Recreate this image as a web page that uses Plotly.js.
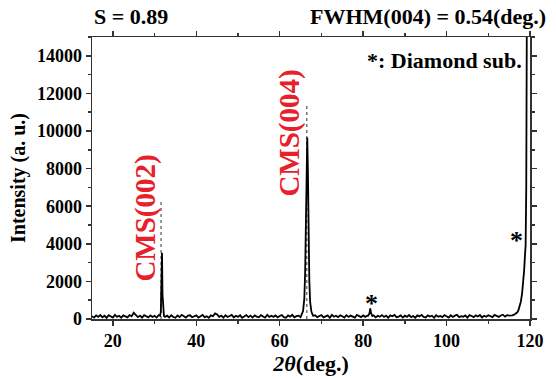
<!DOCTYPE html>
<html>
<head>
<meta charset="utf-8">
<script src="https://cdn.plot.ly/plotly-3.0.1.min.js"></script>
<style>
html,body{margin:0;padding:0;background:#fff;}
#chart{width:556px;height:379px;}
#chart svg text, #chart svg tspan { font-family: 'Liberation Serif', 'Times New Roman', serif !important; }
</style>
</head>
<body>
<div id="chart"></div>
<script>
// Baseline scan: 2theta grid start/step, intensities
var scanStart = 15.0;
var scanStep = 0.5;
var baseIntensity = [
 150,70,190,110,210,90,170,60,200,120,
 80,220,115,170,70,195,130,90,210,150,
 330,190,100,180,70,200,120,85,190,110,
 170,75,210,140,180,110,175,80,200,105,
 65,190,100,220,125,75,180,200,95,150,
 190,70,160,215,100,140,65,195,150,300,
 240,110,175,70,200,105,160,220,85,170,
 115,195,65,150,210,100,180,75,190,130,
 90,205,140,70,215,110,175,115,195,85,
 160,210,100,65,190,125,220,90,150,180,
 105,200,170,140,190,120,70,195,100,170,
 210,85,150,190,65,220,120,175,100,195,
 145,75,205,110,180,130,70,215,160,100,
 190,115,175,210,140,195,85,170,120,205,
 110,180,65,195,145,215,95,130,190,75,
 175,115,210,100,160,70,195,140,220,110,
 85,190,130,175,65,205,120,165,100,210,
 150,75,195,110,180,220,95,150,120,190,
 70,205,160,100,190,130,210,85,175,120,
 200,145,100,215,170,110,190,230,130,205,
 180
];

// Peak segments (2theta, intensity)
var cms002X = [31.3, 31.5, 31.65, 31.78, 31.9, 32.05, 32.25];
var cms002Y = [170, 380, 1400, 3520, 1300, 320, 160];
var cms004X = [65.2, 65.6, 65.9, 66.1, 66.3, 66.45, 66.6, 66.75, 66.9, 67.1, 67.3, 67.6, 68.0];
var cms004Y = [190, 420, 1100, 2500, 5400, 8400, 9650, 8000, 4500, 2000, 900, 380, 170];
var dia81X = [81.2, 81.5, 81.7, 81.9, 82.2];
var dia81Y = [170, 290, 560, 310, 160];
var dia119X = [115.3, 115.7, 116.1, 116.5, 116.9, 117.2, 117.5, 117.8, 118.1, 118.4, 118.6, 118.8, 118.95, 119.1, 119.25];
var dia119Y = [170, 190, 215, 260, 340, 450, 640, 920, 1350, 1950, 2600, 3400, 3900, 7000, 16500];

// Reference (dotted) lines for CMS positions
var refX = [31.55, 66.5];
var refTop = [6220, 11330];

// Labels
var cmsLabels = ["CMS(002)", "CMS(004)"];
var cmsLabelX = [27.6, 62.4];
var cmsLabelY = [5370, 9900];
var starX = [82.1, 116.7];
var starY = [800, 4200];

var segs = [[cms002X, cms002Y], [cms004X, cms004Y], [dia81X, dia81Y], [dia119X, dia119Y]];
var pts = [];
for (var i = 0; i < baseIntensity.length; i++) {
  var xv = scanStart + i * scanStep;
  var inside = false;
  segs.forEach(function (s) { if (xv >= s[0][0] && xv <= s[0][s[0].length - 1]) inside = true; });
  if (!inside) pts.push([xv, baseIntensity[i]]);
}
segs.forEach(function (s) { for (var j = 0; j < s[0].length; j++) pts.push([s[0][j], s[1][j]]); });
pts.sort(function (a, b) { return a[0] - b[0]; });

var traces = [];
refX.forEach(function (rx, k) {
  traces.push({x: [rx, rx], y: [0, refTop[k]], mode: 'lines', line: {color: '#333', width: 1, dash: 'dot'}, hoverinfo: 'skip', showlegend: false});
});
traces.push({
  x: pts.map(function (p) { return p[0]; }),
  y: pts.map(function (p) { return p[1]; }),
  mode: 'lines', line: {color: '#000', width: 1.8}, showlegend: false
});

var FONT_FAMILY = 'Liberation Serif';
function fnt(sz, col) { return {family: FONT_FAMILY, size: sz, color: col || '#000', weight: 'bold'}; }
var ann = [
  {text: 'S = 0.89', xref: 'paper', yref: 'paper', x: 0, y: 1.074, xanchor: 'left', yanchor: 'middle', showarrow: false, font: fnt(22)},
  {text: 'FWHM(004) = 0.54(deg.)', xref: 'paper', yref: 'paper', x: 1.041, y: 1.074, xanchor: 'right', yanchor: 'middle', showarrow: false, font: fnt(22)},
  {text: '*: Diamond sub.', xref: 'paper', yref: 'paper', x: 0.986, y: 0.918, xanchor: 'right', yanchor: 'middle', showarrow: false, font: fnt(22)}
];
cmsLabels.forEach(function (t, k) {
  ann.push({text: t, x: cmsLabelX[k], y: cmsLabelY[k], textangle: -90, showarrow: false, xanchor: 'center', yanchor: 'middle', font: fnt(29, '#e8202a')});
});
starX.forEach(function (sx, k) {
  ann.push({text: '*', x: sx, y: starY[k], showarrow: false, xanchor: 'center', yanchor: 'middle', font: fnt(26)});
});

var layout = {
  width: 556, height: 379,
  margin: {l: 92, r: 26, t: 37, b: 60},
  paper_bgcolor: '#fff', plot_bgcolor: '#fff',
  font: {family: FONT_FAMILY},
  showlegend: false,
  xaxis: {
    range: [15, 120], tick0: 20, dtick: 20, ticks: 'outside', ticklen: 5, tickwidth: 1.5, tickcolor: '#333',
    minor: {dtick: 10, ticks: 'outside', ticklen: 3, tickcolor: '#333'},
    showline: true, linecolor: '#333', linewidth: 1.5, mirror: 'ticks', showgrid: false, zeroline: false,
    tickfont: fnt(18),
    title: {text: '<i>2θ</i>(deg.)', font: fnt(22), standoff: 2}
  },
  yaxis: {
    range: [0, 15000], tick0: 0, dtick: 2000, tickformat: 'd', ticks: 'outside', ticklen: 5, tickwidth: 1.5, tickcolor: '#333',
    minor: {dtick: 1000, ticks: 'outside', ticklen: 3, tickcolor: '#333'},
    showline: true, linecolor: '#333', linewidth: 1.5, mirror: 'ticks', showgrid: false, zeroline: false,
    tickfont: fnt(18),
    title: {text: 'Intensity (a. u.)', font: fnt(20), standoff: 6}
  },
  annotations: ann
};
Plotly.newPlot('chart', traces, layout, {staticPlot: true});
</script>
</body>
</html>
